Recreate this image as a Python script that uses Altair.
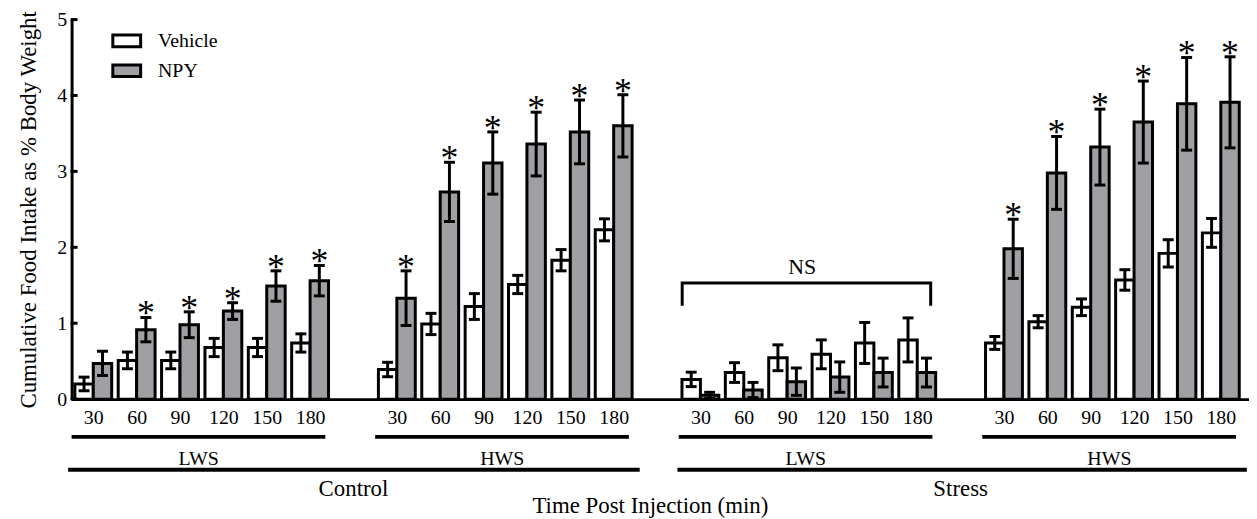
import altair as alt
import pandas as pd

# ---------------- data ----------------
minutes = [30, 60, 90, 120, 150, 180]
groups = ["Control LWS", "Control HWS", "Stress LWS", "Stress HWS"]
subgroup_labels = ["LWS", "HWS", "LWS", "HWS"]
condition_labels = ["Control", "Stress"]
series_names = ["Vehicle", "NPY"]

vehicle_mean = [
    [0.20, 0.51, 0.51, 0.68, 0.68, 0.74],
    [0.39, 0.99, 1.22, 1.51, 1.83, 2.23],
    [0.26, 0.35, 0.545, 0.59, 0.74, 0.78],
    [0.74, 1.02, 1.21, 1.57, 1.92, 2.19],
]
vehicle_sem = [
    [0.09, 0.11, 0.11, 0.12, 0.12, 0.12],
    [0.095, 0.14, 0.17, 0.12, 0.14, 0.145],
    [0.095, 0.13, 0.17, 0.19, 0.27, 0.29],
    [0.085, 0.08, 0.11, 0.135, 0.18, 0.19],
]
npy_mean = [
    [0.47, 0.915, 0.98, 1.16, 1.49, 1.56],
    [1.33, 2.73, 3.11, 3.36, 3.52, 3.60],
    [0.05, 0.12, 0.23, 0.29, 0.35, 0.35],
    [1.98, 2.98, 3.32, 3.65, 3.89, 3.91],
]
npy_sem = [
    [0.16, 0.16, 0.17, 0.11, 0.20, 0.20],
    [0.36, 0.39, 0.41, 0.42, 0.42, 0.41],
    [0.04, 0.10, 0.18, 0.20, 0.19, 0.19],
    [0.39, 0.48, 0.50, 0.54, 0.61, 0.60],
]
npy_sig = [
    [0, 1, 1, 1, 1, 1],
    [1, 1, 1, 1, 1, 1],
    [0, 0, 0, 0, 0, 0],
    [1, 1, 1, 1, 1, 1],
]
ns_group = 2          # group index carrying the "NS" bracket
ns_level = 1.53       # bracket height (y units)
ns_drop = 0.30        # bracket leg length (y units)

# ---------------- tables ----------------
rows = []
for gi, g in enumerate(groups):
    for ti, m in enumerate(minutes):
        rows.append(dict(group=g, gi=gi, ti=ti, minute=m, series="Vehicle", so=0,
                         mean=vehicle_mean[gi][ti], sem=vehicle_sem[gi][ti], sig=0))
        rows.append(dict(group=g, gi=gi, ti=ti, minute=m, series="NPY", so=1,
                         mean=npy_mean[gi][ti], sem=npy_sem[gi][ti], sig=npy_sig[gi][ti]))
df = pd.DataFrame(rows)

SLOTS = len(minutes) + 1
sub_df = pd.DataFrame({"gi": list(range(len(groups))), "label": subgroup_labels})
cond_df = pd.DataFrame({"ci": list(range(len(condition_labels))), "label": condition_labels})
ytick_df = pd.DataFrame({"v": [0, 1, 2, 3, 4, 5]})
ns_df = pd.DataFrame({"k": [0, 1, 2, 3], "xf": [0, 0, 1, 1], "yf": [0, 1, 1, 0]})

tick_vals = [gi * SLOTS + ti + 0.5 for gi in range(len(groups)) for ti in range(len(minutes))]
label_arr = "[" + ",".join("'%d'" % m for m in minutes) + ",'']"

FONT = "'Liberation Serif', 'Times New Roman', 'DejaVu Serif', serif"
W, H = 1185, 382
xscale = alt.Scale(domain=[0, 27.15], nice=False, zero=False)
yscale = alt.Scale(domain=[0, 5], nice=False, zero=False)

xaxis = alt.Axis(
    values=tick_vals, labelExpr=label_arr + "[floor(datum.value) % " + str(SLOTS) + "]",
    title="Time Post Injection (min)", ticks=False, tickSize=0, grid=False,
    domainWidth=3, domainColor="black", labelColor="black", labelFont=FONT,
    labelFontSize=20, labelPadding=9, labelFlush=False, labelOverlap=False,
    titleFont=FONT, titleFontSize=23, titleFontWeight="normal", titleColor="black",
    titleX=582, titleY=107, titleBaseline="middle")
yaxis = alt.Axis(
    values=[0, 1, 2, 3, 4, 5], format="d", ticks=False, tickSize=0, grid=False,
    domainWidth=3, domainColor="black", labelColor="black", labelFont=FONT,
    labelFontSize=20, labelPadding=5,
    title="Cumulative Food Intake as % Body Weight",
    titleFont=FONT, titleFontSize=23, titleFontWeight="normal", titleColor="black",
    titlePadding=16)


def X(field):
    return alt.X(field, scale=xscale, axis=xaxis)


def Y(field):
    return alt.Y(field, scale=yscale, axis=yaxis)


base = alt.Chart(df).transform_calculate(
    slot="datum.gi*%d + datum.ti" % SLOTS,
).transform_calculate(
    x0="datum.slot + (datum.so == 0 ? 0.075 : 0.5)",
    x1="datum.slot + (datum.so == 0 ? 0.5 : 0.925)",
    xc="datum.slot + (datum.so == 0 ? 0.2875 : 0.7125)",
    lo="datum.mean - datum.sem",
    hi="datum.mean + datum.sem",
)

bars = base.mark_bar(stroke="black", strokeWidth=3, opacity=1).encode(
    x=X("x0:Q"),
    x2="x1:Q",
    y=Y("mean:Q"),
    y2=alt.datum(0),
    fill=alt.Fill("series:N", scale=alt.Scale(domain=series_names, range=["#ffffff", "#a0a0a4"]),
                  legend=alt.Legend(title=None, orient="none", legendX=40, legendY=6,
                                    symbolType="M-1,-0.42H1V0.42H-1Z", symbolSize=784,
                                    symbolStrokeColor="black", symbolStrokeWidth=3,
                                    symbolOpacity=1, labelFont=FONT, labelFontSize=20,
                                    labelColor="black", labelOffset=16, rowPadding=2,
                                    padding=0)),
)

err = base.mark_rule(color="black", strokeWidth=3).encode(
    x=X("xc:Q"), y=Y("lo:Q"), y2="hi:Q",
)
cap_hi = base.mark_tick(orient="horizontal", color="black", size=11, thickness=3, opacity=1).encode(
    x=X("xc:Q"), y=Y("hi:Q"),
)
cap_lo = base.mark_tick(orient="horizontal", color="black", size=11, thickness=3, opacity=1).encode(
    x=X("xc:Q"), y=Y("lo:Q"),
)
stars = base.transform_filter("datum.sig == 1").mark_text(
    text="*", font=FONT, fontSize=36, baseline="alphabetic", dy=8, color="black"
).encode(
    x=X("xc:Q"), y=Y("hi:Q"),
)

# NS bracket
ns_base = alt.Chart(ns_df).transform_calculate(
    bx="%d*%d + 0.08 + datum.xf*5.73" % (ns_group, SLOTS),
    by="%f - %f + datum.yf*%f" % (ns_level, ns_drop, ns_drop),
)
ns_line = ns_base.mark_line(color="black", strokeWidth=3, strokeJoin="miter").encode(
    x=X("bx:Q"), y=Y("by:Q"), order="k:Q",
)
ns_text = alt.Chart(pd.DataFrame({"t": ["NS"]})).transform_calculate(
    tx="%d*%d + 0.08 + 5.73/2 - 0.1" % (ns_group, SLOTS),
    ty="%f + 0.21" % ns_level,
).mark_text(font=FONT, fontSize=22, color="black", baseline="middle").encode(
    x=X("tx:Q"), y=Y("ty:Q"), text="t:N",
)

# y ticks (pointing inward)
yticks = alt.Chart(ytick_df).mark_rule(color="black", strokeWidth=3).encode(
    y=Y("v:Q"), x=alt.value(-1), x2=alt.value(6),
)

# sub-group underlines and labels
sub_base = alt.Chart(sub_df).transform_calculate(
    xs="datum.gi*%d + 0.0" % SLOTS,
    xe="datum.gi*%d + 5.85" % SLOTS,
    xm="datum.gi*%d + 2.93" % SLOTS,
)
sub_rule = sub_base.mark_rule(color="black", strokeWidth=4).encode(
    x=X("xs:Q"), x2="xe:Q", y=alt.value(H + 38),
)
sub_text = sub_base.mark_text(font=FONT, fontSize=20, color="black", baseline="middle").encode(
    x=X("xm:Q"), y=alt.value(H + 60), text="label:N",
)

cond_base = alt.Chart(cond_df).transform_calculate(
    xs="datum.ci*%d - 0.08 + datum.ci*0.05" % (2 * SLOTS),
    xe="datum.ci*%d + 13.1" % (2 * SLOTS),
    xm="datum.ci*%d + 6.5" % (2 * SLOTS),
)
cond_rule = cond_base.mark_rule(color="black", strokeWidth=4).encode(
    x=X("xs:Q"), x2="xe:Q", y=alt.value(H + 71),
)
cond_text = cond_base.mark_text(font=FONT, fontSize=23, color="black", baseline="middle").encode(
    x=X("xm:Q"), y=alt.value(H + 90), text="label:N",
)

chart = alt.layer(
    bars, err, cap_hi, cap_lo, stars, ns_line, ns_text, yticks,
    sub_rule, sub_text, cond_rule, cond_text,
).properties(
    width=W, height=H,
    autosize=alt.AutoSizeParams(type="none"),
    padding={"left": 64, "top": 10, "right": 0, "bottom": 119},
    background="white",
).configure_view(stroke=None)

chart.save("out.html", embed_options={"renderer": "svg", "actions": False})
